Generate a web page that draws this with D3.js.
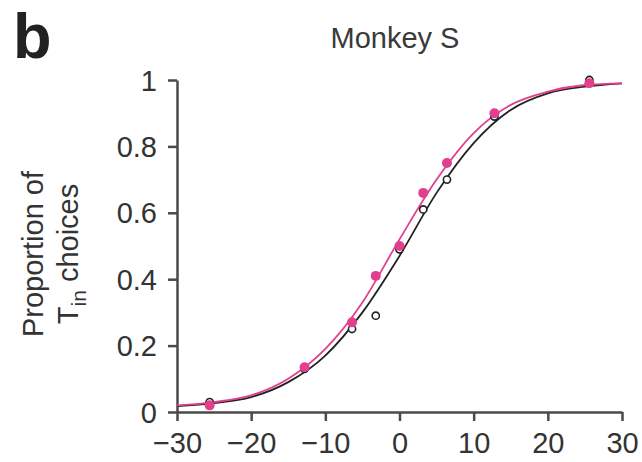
<!DOCTYPE html>
<html>
<head>
<meta charset="utf-8">
<script src="https://cdn.jsdelivr.net/npm/d3@7"></script>
<style>
  html, body { margin: 0; padding: 0; background: #fff; }
  svg { display: block; font-family: "Liberation Sans", Arial, Helvetica, sans-serif; }
</style>
</head>
<body>
<div id="chart"></div>
<script>
// Coherence levels (x) and choice proportions
const coherence = [-25.6, -12.8, -6.4, -3.2, 0, 3.2, 6.4, 12.8, 25.6];
const blackProp = [0.03, 0.13, 0.25, 0.29, 0.49, 0.61, 0.70, 0.89, 1.0];
const pinkProp = [0.02, 0.135, 0.27, 0.41, 0.50, 0.66, 0.75, 0.90, 0.99];

// Fitted curves
const curveX = [-30, -25, -20, -15, -10, -5, 0, 5, 10, 15, 20, 25, 30];
const blackCurve = [0.018, 0.027, 0.045, 0.09, 0.17, 0.30, 0.47, 0.66, 0.81, 0.91, 0.96, 0.98, 0.99];
const pinkCurve = [0.02, 0.03, 0.05, 0.10, 0.19, 0.33, 0.52, 0.70, 0.84, 0.925, 0.965, 0.985, 0.99];

const xTicks = [-30, -20, -10, 0, 10, 20, 30];
const yTicks = [0, 0.2, 0.4, 0.6, 0.8, 1];

const width = 642, height = 462;
const pink = "#e2408f";
const axisColor = "#4a4a4a";
const textColor = "#333";

const svg = d3.select("#chart").append("svg")
    .attr("width", width)
    .attr("height", height);

const x = d3.scaleLinear().domain([-30, 30]).range([177, 622]);
const y = d3.scaleLinear().domain([0, 1]).range([412, 80]);

// Axes
const xAxis = svg.append("g")
    .attr("transform", `translate(0,${y(0)})`)
    .call(d3.axisBottom(x).tickValues(xTicks).tickSize(9).tickSizeOuter(0)
        .tickFormat(d => d < 0 ? "\u2212" + Math.abs(d) : d));

const yAxis = svg.append("g")
    .attr("transform", `translate(${x(-30)},0)`)
    .call(d3.axisLeft(y).tickValues(yTicks).tickSize(9).tickSizeOuter(0)
        .tickFormat(d => d));

[xAxis, yAxis].forEach(g => {
    g.select(".domain").attr("stroke", axisColor).attr("stroke-width", 2.5);
    g.selectAll(".tick line").attr("stroke", axisColor).attr("stroke-width", 2.5);
    g.selectAll(".tick text")
        .attr("fill", textColor)
        .style("font-size", "29px")
        .style("font-family", "'Liberation Sans', Arial, sans-serif");
});
xAxis.selectAll(".tick text").attr("dy", "0.95em").attr("y", 13);
yAxis.selectAll(".tick text").attr("x", -20).attr("dy", "0.35em");

// Curves
const line = d3.line()
    .x(d => x(d[0]))
    .y(d => y(d[1]))
    .curve(d3.curveMonotoneX);

svg.append("path")
    .datum(curveX.map((v, i) => [v, blackCurve[i]]))
    .attr("d", line)
    .attr("fill", "none")
    .attr("stroke", "#222")
    .attr("stroke-width", 1.8);

svg.append("path")
    .datum(curveX.map((v, i) => [v, pinkCurve[i]]))
    .attr("d", line)
    .attr("fill", "none")
    .attr("stroke", pink)
    .attr("stroke-width", 1.8);

// Data points
svg.append("g").selectAll("circle")
    .data(coherence.map((v, i) => [v, blackProp[i]]))
    .join("circle")
    .attr("cx", d => x(d[0]))
    .attr("cy", d => y(d[1]))
    .attr("r", 3.6)
    .attr("fill", "#fff")
    .attr("stroke", "#222")
    .attr("stroke-width", 1.6);

svg.append("g").selectAll("circle")
    .data(coherence.map((v, i) => [v, pinkProp[i]]))
    .join("circle")
    .attr("cx", d => x(d[0]))
    .attr("cy", d => y(d[1]))
    .attr("r", 5)
    .attr("fill", pink);

// Title and panel letter
svg.append("text")
    .attr("x", 395).attr("y", 48)
    .attr("text-anchor", "middle")
    .attr("fill", "#3a3a3a")
    .style("font-size", "29px")
    .text("Monkey S");

svg.append("text")
    .attr("x", 13).attr("y", 58)
    .attr("fill", "#222")
    .style("font-size", "63px")
    .style("font-weight", "bold")
    .text("b");

// Y axis label (two lines, rotated)
const yl = svg.append("g")
    .attr("transform", "translate(0,254) rotate(-90)")
    .attr("fill", textColor)
    .style("font-size", "29px");

yl.append("text")
    .attr("x", 0).attr("y", 43)
    .attr("text-anchor", "middle")
    .text("Proportion of");

const l2 = yl.append("text")
    .attr("x", 0).attr("y", 78)
    .attr("text-anchor", "middle");
l2.append("tspan").text("T");
l2.append("tspan").attr("dy", 8).style("font-size", "21px").text("in");
l2.append("tspan").attr("dy", -8).text(" choices");
</script>
</body>
</html>
